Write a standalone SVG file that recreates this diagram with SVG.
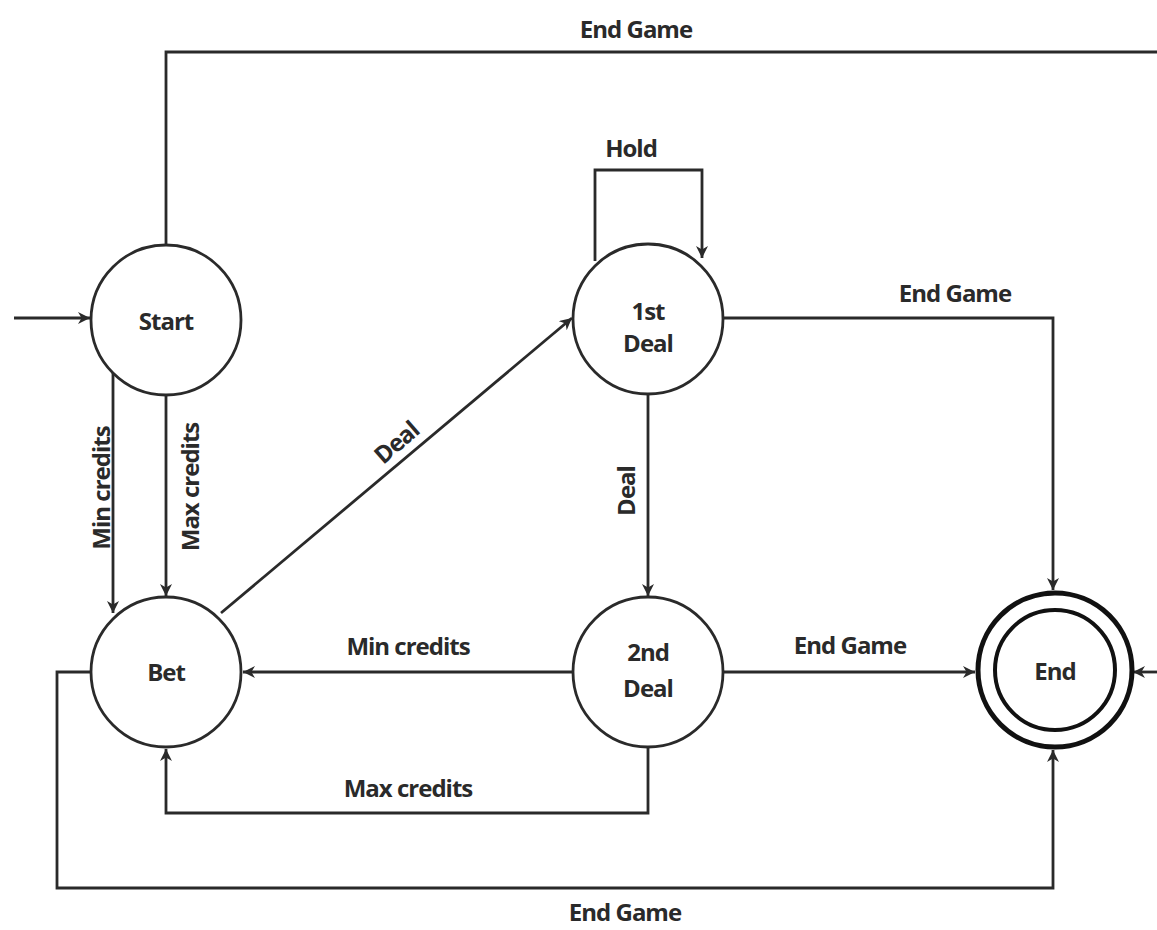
<svg xmlns="http://www.w3.org/2000/svg" width="1157" height="930" viewBox="0 0 1157 930">
<style>
.node{fill:#fff;stroke:#2a2a2a;stroke-width:2.8}
.lbl{font-family:"Open Sans","Liberation Sans",sans-serif;font-weight:700;font-size:24px;fill:#2a2a2a;text-anchor:middle;letter-spacing:-1px}
.e{fill:none;stroke:#2a2a2a;stroke-width:2.8}
</style>
<defs>
<marker id="ah" viewBox="0 0 10 10" refX="10" refY="5" markerWidth="14" markerHeight="12" orient="auto" markerUnits="userSpaceOnUse">
<path d="M0,0 L10,5 L0,10 L3,5 Z" fill="#2a2a2a"/>
</marker>
</defs>
<rect width="1157" height="930" fill="#fff"/>
<g id="connectors">
<path class="e" d="M14,318 L90,318" marker-end="url(#ah)"/>
<path class="e" d="M166,244 L166,52 L1157,52"/>
<path class="e" d="M113,373 L113,613" marker-end="url(#ah)"/>
<path class="e" d="M166,395 L166,596" marker-end="url(#ah)"/>
<path class="e" d="M221,613 L572,318" marker-end="url(#ah)"/>
<path class="e" d="M595,261 L595,170 L702,170 L702,258" marker-end="url(#ah)"/>
<path class="e" d="M723,318 L1053,318 L1053,590" marker-end="url(#ah)"/>
<path class="e" d="M648,394 L648,596" marker-end="url(#ah)"/>
<path class="e" d="M573,672 L243,672" marker-end="url(#ah)"/>
<path class="e" d="M723,672 L975,672" marker-end="url(#ah)"/>
<path class="e" d="M648,747 L648,813 L166,813 L166,749" marker-end="url(#ah)"/>
<path class="e" d="M91,672 L57,672 L57,888 L1053,888 L1053,750" marker-end="url(#ah)"/>
<path class="e" d="M1157,672 L1133,672" marker-end="url(#ah)"/>
</g>
<g id="labels">
<text class="lbl" x="636" y="38">End Game</text>
<text class="lbl" x="631" y="157">Hold</text>
<text class="lbl" x="955" y="302">End Game</text>
<text class="lbl" transform="translate(110,488) rotate(-90)">Min credits</text>
<text class="lbl" transform="translate(199,487) rotate(-90)">Max credits</text>
<text class="lbl" transform="translate(402,449) rotate(-41)">Deal</text>
<text class="lbl" transform="translate(635,491) rotate(-90)">Deal</text>
<text class="lbl" x="408" y="655">Min credits</text>
<text class="lbl" x="850" y="654">End Game</text>
<text class="lbl" x="408" y="797">Max credits</text>
<text class="lbl" x="625" y="921">End Game</text>
</g>
<g id="start"><circle class="node" cx="166" cy="320" r="75"/><text class="lbl" x="166" y="330">Start</text></g>
<g id="deal1"><circle class="node" cx="648" cy="319" r="75"/><text class="lbl" x="648" y="320">1st</text><text class="lbl" x="648" y="352">Deal</text></g>
<g id="bet"><circle class="node" cx="166" cy="672" r="75"/><text class="lbl" x="166" y="681">Bet</text></g>
<g id="deal2"><circle class="node" cx="648" cy="672" r="75"/><text class="lbl" x="648" y="661">2nd</text><text class="lbl" x="648" y="697">Deal</text></g>
<g id="end"><circle cx="1055" cy="670" r="77" fill="#fff" stroke="#111" stroke-width="5"/><circle cx="1055" cy="670" r="60" fill="none" stroke="#111" stroke-width="4"/><text class="lbl" x="1055" y="680">End</text></g>
</svg>
